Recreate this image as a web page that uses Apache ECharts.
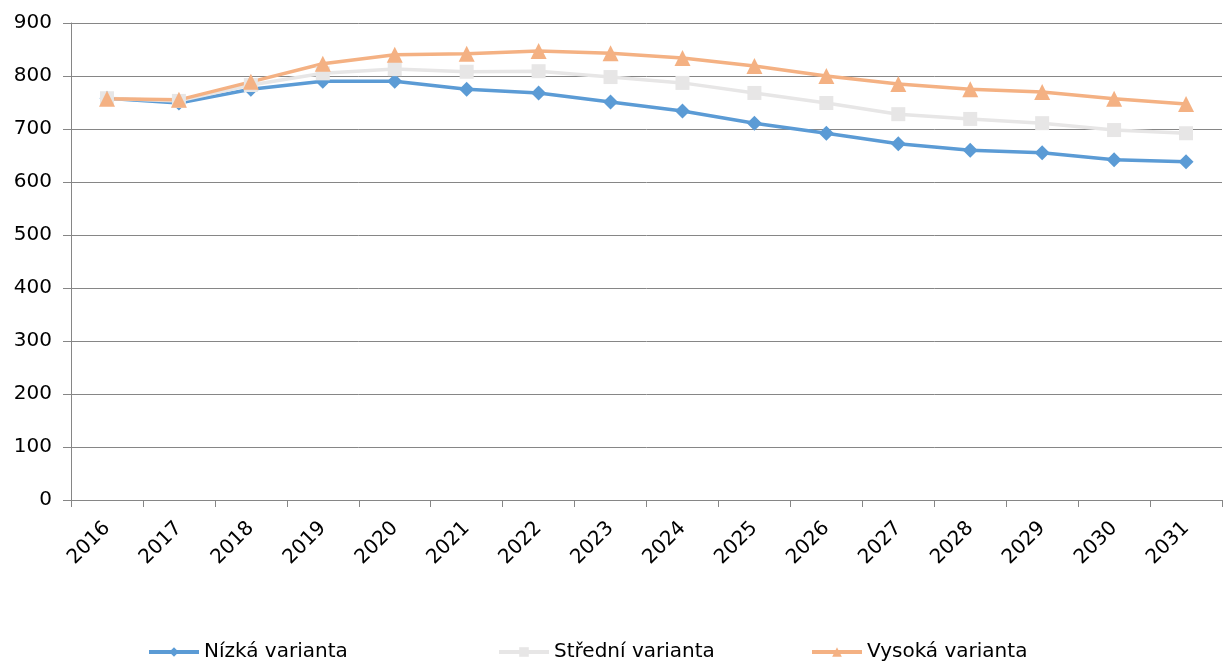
<!DOCTYPE html>
<html>
<head>
<meta charset="utf-8">
<script src="https://cdn.jsdelivr.net/npm/echarts@6/dist/echarts.min.js"></script>
<style>
  html, body { margin: 0; padding: 0; background: #fff; }
  #chart { width: 1223px; height: 664px; }
</style>
</head>
<body>
<div id="chart"></div>
<script>
// roky na ose x
var years = ['2016','2017','2018','2019','2020','2021','2022','2023','2024','2025','2026','2027','2028','2029','2030','2031'];
// odhad z obrazku
var nizka   = [758, 749, 775, 790, 790, 775, 768, 751, 734, 711, 692, 672, 660, 655, 642, 638];
var stredni = [758, 753, 783, 805, 813, 808, 809, 798, 787, 768, 749, 728, 719, 711, 698, 692];
var vysoka  = [757, 755, 789, 823, 840, 842, 847, 843, 834, 819, 800, 785, 775, 770, 757, 747];
var names = ['Nízká varianta', 'Střední varianta', 'Vysoká varianta'];

var chart = echarts.init(document.getElementById('chart'));
var font = "'DejaVu Sans', Verdana, sans-serif";

function legendAt(name, left) {
  return {
    data: [name],
    left: left,
    top: 642,
    padding: 0,
    itemWidth: 50,
    itemHeight: 12,
    itemGap: 0,
    lineStyle: { width: 4 },
    textStyle: { fontFamily: font, fontSize: 20, color: '#000' }
  };
}

var option = {
  animation: false,
  textStyle: { fontFamily: font },
  legend: [
    legendAt(names[0], 147),
    legendAt(names[1], 497),
    legendAt(names[2], 810)
  ],
  grid: { left: 71, right: 1, top: 23, bottom: 164, containLabel: false },
  xAxis: {
    type: 'category',
    data: years,
    boundaryGap: true,
    axisLine: { lineStyle: { color: '#868686', width: 1 } },
    axisTick: { show: true, length: 7, lineStyle: { color: '#868686' } },
    axisLabel: { rotate: 45, fontFamily: font, fontSize: 20, color: '#000', margin: 25 }
  },
  yAxis: {
    type: 'value',
    min: 0,
    max: 900,
    interval: 100,
    axisLine: { show: true, lineStyle: { color: '#868686', width: 1 } },
    axisTick: { show: true, length: 8, lineStyle: { color: '#868686' } },
    splitLine: { lineStyle: { color: '#868686', width: 1 } },
    axisLabel: { fontFamily: font, fontSize: 20, color: '#000', margin: 19 }
  },
  series: [
    {
      name: names[0],
      type: 'line',
      data: nizka,
      symbol: 'diamond',
      symbolSize: 15,
      lineStyle: { color: '#5B9BD5', width: 3.5 },
      itemStyle: { color: '#5B9BD5' }
    },
    {
      name: names[1],
      type: 'line',
      data: stredni,
      symbol: 'rect',
      symbolSize: 14,
      lineStyle: { color: '#E7E6E6', width: 3.5 },
      itemStyle: { color: '#E7E6E6' }
    },
    {
      name: names[2],
      type: 'line',
      data: vysoka,
      symbol: 'triangle',
      symbolSize: 16,
      lineStyle: { color: '#F4B183', width: 3.5 },
      itemStyle: { color: '#F4B183' }
    }
  ]
};

chart.setOption(option);
</script>
</body>
</html>
